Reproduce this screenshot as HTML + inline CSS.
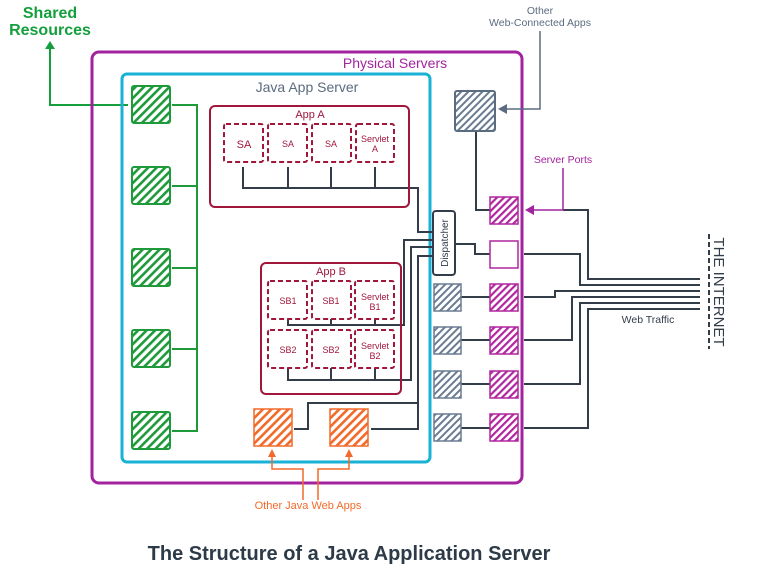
<!DOCTYPE html>
<html><head><meta charset="utf-8"><style>
html,body{margin:0;padding:0;background:#fff}
svg{display:block;font-family:"Liberation Sans",sans-serif}
</style></head><body>
<svg width="767" height="572" viewBox="0 0 767 572" xmlns="http://www.w3.org/2000/svg">
<defs>
<pattern id="hg" width="6" height="6" patternUnits="userSpaceOnUse" patternTransform="rotate(45)"><rect width="6" height="6" fill="#fff"/><rect width="2.6" height="6" fill="#1f9a3a"/></pattern>
<pattern id="hm" width="5" height="5" patternUnits="userSpaceOnUse" patternTransform="rotate(45)"><rect width="5" height="5" fill="#fff"/><rect width="2.2" height="5" fill="#b0279f"/></pattern>
<pattern id="hs" width="5" height="5" patternUnits="userSpaceOnUse" patternTransform="rotate(45)"><rect width="5" height="5" fill="#fff"/><rect width="2" height="5" fill="#6a7c92"/></pattern>
<pattern id="ho" width="6" height="6" patternUnits="userSpaceOnUse" patternTransform="rotate(45)"><rect width="6" height="6" fill="#fff"/><rect width="2.6" height="6" fill="#f26a2a"/></pattern>
</defs>

<text x="50" y="18" font-size="16" font-weight="bold" fill="#13a03c" text-anchor="middle">Shared</text>
<text x="50" y="35" font-size="16" font-weight="bold" fill="#13a03c" text-anchor="middle">Resources</text>
<polyline points="128,105 50,105 50,48" fill="none" stroke="#13a03c" stroke-width="2"/>
<polygon points="45,49 55,49 50,41" fill="#13a03c"/>

<rect x="92" y="52" width="430" height="431" rx="7" fill="none" stroke="#a3239f" stroke-width="3"/>
<text x="395" y="68" font-size="14" fill="#a3239f" text-anchor="middle">Physical Servers</text>
<rect x="122" y="74" width="308" height="388" rx="5" fill="none" stroke="#18b2d6" stroke-width="3"/>
<text x="307" y="92" font-size="14" fill="#5b6b80" text-anchor="middle">Java App Server</text>

<g stroke="#1f9a3a" stroke-width="2" fill="none">
<line x1="197" y1="104" x2="197" y2="432"/>
<line x1="172" y1="105" x2="197" y2="105"/>
<line x1="172" y1="186" x2="197" y2="186"/>
<line x1="172" y1="268" x2="197" y2="268"/>
<line x1="172" y1="349" x2="197" y2="349"/>
<line x1="172" y1="431" x2="197" y2="431"/>
</g>
<g fill="url(#hg)" stroke="#1f9a3a" stroke-width="2">
<rect x="132" y="86" width="38" height="37" rx="2"/>
<rect x="132" y="167" width="38" height="37" rx="2"/>
<rect x="132" y="249" width="38" height="37" rx="2"/>
<rect x="132" y="330" width="38" height="37" rx="2"/>
<rect x="132" y="412" width="38" height="37" rx="2"/>
</g>

<g stroke="#333d4a" stroke-width="2" fill="none">
<polyline points="243,167 243,188 418,188 418,232 433,232"/>
<line x1="288" y1="167" x2="288" y2="188"/>
<line x1="331" y1="167" x2="331" y2="188"/>
<line x1="375" y1="167" x2="375" y2="188"/>
<polyline points="433,240 404,240 404,325 288,325 288,319"/>
<line x1="331" y1="319" x2="331" y2="325"/>
<line x1="375" y1="319" x2="375" y2="325"/>
<polyline points="433,247 411,247 411,380 288,380 288,368"/>
<line x1="331" y1="368" x2="331" y2="380"/>
<line x1="375" y1="368" x2="375" y2="380"/>
<polyline points="433,256 418,256 418,429 371,429"/>
<polyline points="294,429 308,429 308,403 418,403"/>
<polyline points="455,244 475,244 475,254 490,254"/>
<polyline points="476,131 476,210 490,210"/>
<line x1="461" y1="297" x2="490" y2="297"/>
<line x1="461" y1="340" x2="490" y2="340"/>
<line x1="461" y1="384" x2="490" y2="384"/>
<line x1="461" y1="428" x2="490" y2="428"/>
<polyline points="563,210 588,210 588,279 700,279"/>
<polyline points="524,254 580,254 580,285 700,285"/>
<polyline points="524,297 555,297 555,291 700,291"/>
<polyline points="524,340 572,340 572,297 700,297"/>
<polyline points="524,384 580,384 580,303 700,303"/>
<polyline points="524,428 588,428 588,309 700,309"/>
</g>

<rect x="210" y="106" width="199" height="101" rx="5" fill="none" stroke="#a1173c" stroke-width="2"/>
<text x="310" y="118" font-size="11" fill="#a1173c" text-anchor="middle">App A</text>
<g fill="none" stroke="#a1173c" stroke-width="2" stroke-dasharray="5,3">
<rect x="224" y="124" width="39" height="38" rx="2"/>
<rect x="268" y="124" width="39" height="38" rx="2"/>
<rect x="312" y="124" width="39" height="38" rx="2"/>
<rect x="356" y="124" width="38" height="38" rx="2"/>
<rect x="268" y="281" width="39" height="38" rx="2"/>
<rect x="312" y="281" width="39" height="38" rx="2"/>
<rect x="355" y="281" width="39" height="38" rx="2"/>
<rect x="268" y="330" width="39" height="38" rx="2"/>
<rect x="312" y="330" width="39" height="38" rx="2"/>
<rect x="355" y="330" width="39" height="38" rx="2"/>
</g>
<g fill="#a1173c" text-anchor="middle" font-size="9">
<text x="244" y="148" font-size="11">SA</text>
<text x="288" y="147">SA</text>
<text x="331" y="147">SA</text>
<text x="375" y="142">Servlet</text><text x="375" y="152">A</text>
<text x="288" y="304">SB1</text>
<text x="331" y="304">SB1</text>
<text x="375" y="300">Servlet</text><text x="375" y="310">B1</text>
<text x="288" y="353">SB2</text>
<text x="331" y="353">SB2</text>
<text x="375" y="349">Servlet</text><text x="375" y="359">B2</text>
</g>
<rect x="261" y="263" width="140" height="131" rx="5" fill="none" stroke="#a1173c" stroke-width="2"/>
<text x="331" y="275" font-size="11" fill="#a1173c" text-anchor="middle">App B</text>

<rect x="433" y="211" width="22" height="64" rx="3" fill="#fff" stroke="#333d4a" stroke-width="2"/>
<text transform="translate(448,243) rotate(-90)" font-size="10" fill="#333d4a" text-anchor="middle">Dispatcher</text>

<g fill="url(#ho)" stroke="#f26a2a" stroke-width="1.5">
<rect x="254" y="409" width="38" height="37"/>
<rect x="330" y="409" width="38" height="37"/>
</g>
<g stroke="#f26a2a" stroke-width="1.5" fill="none">
<polyline points="303,500 303,469 272,469 272,455"/>
<polyline points="318,500 318,469 349,469 349,455"/>
</g>
<polygon points="268,457 276,457 272,449" fill="#f26a2a"/>
<polygon points="345,457 353,457 349,449" fill="#f26a2a"/>
<text x="308" y="509" font-size="11" fill="#f26a2a" text-anchor="middle">Other Java Web Apps</text>

<rect x="455" y="91" width="40" height="40" rx="2" fill="url(#hs)" stroke="#5b6b80" stroke-width="2"/>
<g fill="url(#hs)" stroke="#6a7c92" stroke-width="1.5">
<rect x="434" y="284" width="27" height="27"/>
<rect x="434" y="327" width="27" height="27"/>
<rect x="434" y="371" width="27" height="27"/>
<rect x="434" y="414" width="27" height="27"/>
</g>
<g fill="url(#hm)" stroke="#b0279f" stroke-width="1.5">
<rect x="490" y="197" width="28" height="27"/>
<rect x="490" y="284" width="28" height="27"/>
<rect x="490" y="327" width="28" height="27"/>
<rect x="490" y="371" width="28" height="27"/>
<rect x="490" y="414" width="28" height="27"/>
</g>
<rect x="490" y="241" width="28" height="27" fill="#fff" stroke="#b0279f" stroke-width="1.5"/>

<text x="540" y="14" font-size="10.5" fill="#5b6b80" text-anchor="middle">Other</text>
<text x="540" y="26" font-size="10.5" fill="#5b6b80" text-anchor="middle">Web-Connected Apps</text>
<polyline points="540,31 540,109 505,109" fill="none" stroke="#5b6b80" stroke-width="1.5"/>
<polygon points="498,109 507,104 507,114" fill="#5b6b80"/>

<text x="563" y="163" font-size="10.5" fill="#a3239f" text-anchor="middle">Server Ports</text>
<polyline points="563,168 563,210 532,210" fill="none" stroke="#a3239f" stroke-width="1.5"/>
<polygon points="525,210 534,205 534,215" fill="#a3239f"/>

<text x="648" y="323" font-size="10.5" fill="#333d4a" text-anchor="middle">Web Traffic</text>
<line x1="709" y1="234" x2="709" y2="349" stroke="#333d4a" stroke-width="2" stroke-dasharray="5,3"/>
<text transform="translate(714,292) rotate(90)" font-size="15" fill="#333d4a" text-anchor="middle">THE INTERNET</text>

<text x="349" y="560" font-size="20" font-weight="bold" fill="#2d3a48" text-anchor="middle">The Structure of a Java Application Server</text>
</svg>
</body></html>
